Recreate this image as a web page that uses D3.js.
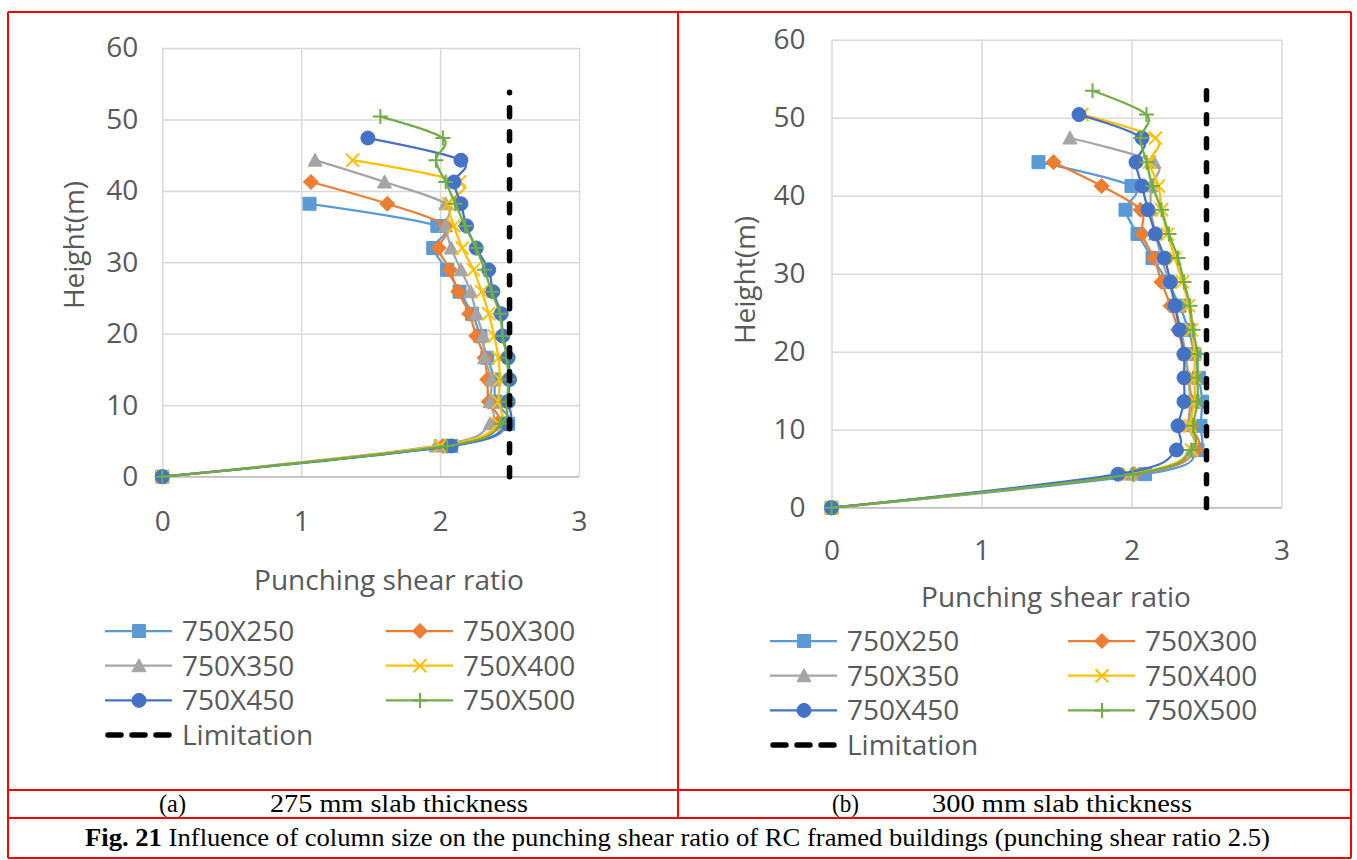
<!DOCTYPE html>
<html><head><meta charset="utf-8">
<script src="https://cdn.jsdelivr.net/npm/d3@7"></script>
<style>body{margin:0;background:#fff;} svg{display:block;}</style>
</head><body>
<svg id="c" width="1357" height="860"></svg>
<script>
// ---------- data ----------
const heights = [0, 4.3, 7.4, 10.5, 13.6, 16.65, 19.7, 22.8, 25.9, 28.95, 32.0, 35.1, 38.2, 41.25, 44.3, 47.4, 50.4, 53.45];
const seriesNames = ["750X250", "750X300", "750X350", "750X400", "750X450", "750X500"];
const seriesColors = ["#5B9BD5", "#ED7D31", "#A5A5A5", "#FFC000", "#4472C4", "#70AD47"];
const markerShapes = ["square", "diamond", "triangle", "x", "circle", "plus"];
const xTicks = [0, 1, 2, 3];
const yTicks = [0, 10, 20, 30, 40, 50, 60];
const limitRatio = [2.5, 2.5];
const limitHeight = [0, 53.8];
const limitName = "Limitation";

// (a) 275 mm slab thickness
const a750x250 = [0, 2.08, 2.49, 2.40, 2.39, 2.34, 2.29, 2.23, 2.14, 2.05, 1.95, 1.98, 1.06];
const a750x300 = [0, 2.02, 2.41, 2.35, 2.34, 2.32, 2.26, 2.21, 2.13, 2.07, 1.99, 2.04, 1.62, 1.07];
const a750x350 = [0, 1.97, 2.36, 2.36, 2.37, 2.32, 2.31, 2.26, 2.22, 2.15, 2.08, 2.04, 2.04, 1.60, 1.10];
const a750x400 = [0, 2.00, 2.42, 2.42, 2.43, 2.42, 2.39, 2.35, 2.30, 2.24, 2.16, 2.10, 2.06, 2.14, 1.37];
const a750x450 = [0, 2.08, 2.48, 2.49, 2.50, 2.49, 2.45, 2.44, 2.38, 2.35, 2.26, 2.19, 2.15, 2.10, 2.15, 1.48];
const a750x500 = [0, 2.05, 2.44, 2.48, 2.49, 2.48, 2.45, 2.43, 2.37, 2.32, 2.26, 2.18, 2.11, 2.04, 1.97, 2.02, 1.57];

// (b) 300 mm slab thickness
const b750x250 = [0, 2.09, 2.44, 2.46, 2.47, 2.45, 2.42, 2.38, 2.32, 2.24, 2.14, 2.04, 1.96, 2.00, 1.38];
const b750x300 = [0, 2.02, 2.43, 2.40, 2.40, 2.38, 2.35, 2.31, 2.26, 2.20, 2.15, 2.07, 2.06, 1.80, 1.48];
const b750x350 = [0, 2.00, 2.40, 2.38, 2.39, 2.38, 2.36, 2.33, 2.29, 2.25, 2.20, 2.16, 2.13, 2.13, 2.15, 1.59];
const b750x400 = [0, 1.98, 2.40, 2.39, 2.42, 2.42, 2.42, 2.40, 2.38, 2.34, 2.29, 2.24, 2.20, 2.18, 2.12, 2.16, 1.67];
const b750x450 = [0, 1.91, 2.30, 2.31, 2.35, 2.35, 2.35, 2.32, 2.29, 2.26, 2.22, 2.16, 2.11, 2.07, 2.03, 2.07, 1.65];
const b750x500 = [0, 2.01, 2.40, 2.41, 2.44, 2.44, 2.44, 2.41, 2.39, 2.35, 2.31, 2.25, 2.20, 2.14, 2.10, 2.06, 2.10, 1.74];

const xTitle = "Punching shear ratio";
const yTitle = "Height(m)";
const subCaptionA = ["(a)", "275 mm  slab  thickness"];
const subCaptionB = ["(b)", "300 mm  slab  thickness"];
const figLabel = "Fig. 21";
const figText = " Influence of column size on the punching shear ratio of RC framed buildings (punching shear ratio 2.5)";

// ---------- drawing ----------
const svg = d3.select("#c");
const TEXT = "#595959";
const FONT = "'Open Sans', sans-serif";
const FS = 28;

function markerPath(shape) {
  switch (shape) {
    case "square": return "M-6.5,-6.5H6.5V6.5H-6.5Z";
    case "diamond": return "M0,-7.5L7.5,0L0,7.5L-7.5,0Z";
    case "triangle": return "M0,-7L7,6L-7,6Z";
    case "circle": return "M7,0A7,7 0 1,1 -7,0A7,7 0 1,1 7,0Z";
    case "x": return "M-6.5,-6.5L6.5,6.5M-6.5,6.5L6.5,-6.5";
    case "plus": return "M-7.5,0H7.5M0,-7.5V7.5";
  }
}
function drawMarker(g, shape, color, x, y) {
  const stroked = shape === "x" || shape === "plus";
  g.append("path").attr("d", markerPath(shape))
    .attr("transform", `translate(${x},${y})`)
    .attr("fill", stroked ? "none" : color)
    .attr("stroke", color)
    .attr("stroke-width", stroked ? 2 : 1);
}

function drawPanel(cfg) {
  const g = svg.append("g");
  const x = d3.scaleLinear().domain([0, 3]).range(cfg.xr);
  const y = d3.scaleLinear().domain([0, 60]).range(cfg.yr);

  const yAxis = d3.axisLeft(y).tickValues(yTicks).tickFormat(d3.format("d"))
    .tickSize(-(cfg.xr[1] - cfg.xr[0])).tickPadding(cfg.yPad).tickSizeOuter(0);
  const ya = g.append("g").attr("transform", `translate(${cfg.xr[0]},0)`).call(yAxis);
  ya.select(".domain").remove();
  ya.selectAll("line").attr("stroke", "#D9D9D9").attr("stroke-width", 1.5);
  ya.selectAll("text").attr("font-family", FONT).attr("font-size", FS).attr("fill", TEXT);

  const xAxis = d3.axisBottom(x).tickValues(xTicks).tickFormat(d3.format("d"))
    .tickSize(-(cfg.yr[0] - cfg.yr[1])).tickPadding(cfg.xPad).tickSizeOuter(0);
  const xa = g.append("g").attr("transform", `translate(0,${cfg.yr[0]})`).call(xAxis);
  xa.select(".domain").remove();
  xa.selectAll("line").attr("stroke", "#D9D9D9").attr("stroke-width", 1.5);
  xa.selectAll("text").attr("font-family", FONT).attr("font-size", FS).attr("fill", TEXT);

  g.append("line").attr("x1", x(0)).attr("x2", x(3)).attr("y1", y(0)).attr("y2", y(0))
    .attr("stroke", "#BFBFBF").attr("stroke-width", 1.5);

  const line = d3.line().x(d => x(d[0])).y(d => y(d[1])).curve(d3.curveCardinal.tension(0));
  cfg.series.forEach((vals, i) => {
    const pts = vals.map((v, k) => [v, heights[k]]);
    g.append("path").attr("d", line(pts)).attr("fill", "none")
      .attr("stroke", seriesColors[i]).attr("stroke-width", 2.25);
    pts.forEach(p => drawMarker(g, markerShapes[i], seriesColors[i], x(p[0]), y(p[1])));
  });

  const lim = limitRatio.map((v, k) => [v, limitHeight[k]]);
  g.append("path").attr("d", d3.line().x(d => x(d[0])).y(d => y(d[1]))(lim))
    .attr("fill", "none").attr("stroke", "#000").attr("stroke-width", 5.5)
    .attr("stroke-linecap", "round").attr("stroke-dasharray", "9,15");

  g.append("text").attr("x", cfg.xTitle[0]).attr("y", cfg.xTitle[1])
    .attr("text-anchor", "middle").attr("font-family", FONT).attr("font-size", FS).attr("fill", TEXT).text(xTitle);
  g.append("text").attr("transform", `translate(${cfg.yTitle[0]},${cfg.yTitle[1]}) rotate(-90)`)
    .attr("text-anchor", "middle").attr("font-family", FONT).attr("font-size", FS).attr("fill", TEXT).text(yTitle);

  seriesNames.forEach((n, i) => {
    const col = i % 2, row = Math.floor(i / 2);
    const lx = cfg.legX[col], ly = cfg.legY + row * cfg.legDy;
    g.append("line").attr("x1", lx).attr("x2", lx + 67).attr("y1", ly).attr("y2", ly)
      .attr("stroke", seriesColors[i]).attr("stroke-width", 2.25);
    drawMarker(g, markerShapes[i], seriesColors[i], lx + 34, ly);
    g.append("text").attr("x", lx + 77).attr("y", ly).attr("dy", "0.36em")
      .attr("font-family", FONT).attr("font-size", FS).attr("fill", TEXT).text(n);
  });
  const ly = cfg.legY + 3 * cfg.legDy, lx = cfg.legX[0];
  g.append("line").attr("x1", lx + 3).attr("x2", lx + 64).attr("y1", ly).attr("y2", ly)
    .attr("stroke", "#000").attr("stroke-width", 5.5).attr("stroke-linecap", "round").attr("stroke-dasharray", "13,11");
  g.append("text").attr("x", lx + 77).attr("y", ly).attr("dy", "0.36em")
    .attr("font-family", FONT).attr("font-size", FS).attr("fill", TEXT).text(limitName);
}

drawPanel({
  xr: [162.3, 579], yr: [476.7, 48], yPad: 24, xPad: 34,
  xTitle: [389, 590], yTitle: [84, 245],
  series: [a750x250, a750x300, a750x350, a750x400, a750x450, a750x500],
  legX: [105, 386], legY: 631, legDy: 34.7
});
drawPanel({
  xr: [831.5, 1281.5], yr: [507.7, 39.7], yPad: 26, xPad: 32,
  xTitle: [1056, 607], yTitle: [755, 280],
  series: [b750x250, b750x300, b750x350, b750x400, b750x450, b750x500],
  legX: [770, 1068], legY: 641, legDy: 34.7
});

// ---------- frame & captions ----------
const red = "#FF0000";
const frame = svg.append("g").attr("stroke", red).attr("stroke-width", 2);
[[8, 12, 1351, 12], [8, 790, 1351, 790], [8, 818, 1351, 818], [8, 858, 1351, 858],
 [8, 12, 8, 858], [1351, 12, 1351, 858], [678, 12, 678, 818]].forEach(l =>
  frame.append("line").attr("x1", l[0]).attr("y1", l[1]).attr("x2", l[2]).attr("y2", l[3]));

const SERIF = "'Liberation Serif', 'Times New Roman', serif";
function cap(t, x, len, yy) {
  svg.append("text").attr("x", x).attr("y", yy).attr("font-family", SERIF).attr("font-size", 25)
    .attr("textLength", len).attr("lengthAdjust", "spacingAndGlyphs").text(t);
}
cap(subCaptionA[0], 159, 27, 812);
cap(subCaptionA[1], 270, 258, 812);
cap(subCaptionB[0], 832, 27, 812);
cap(subCaptionB[1], 932, 260, 812);
const ft = svg.append("text").attr("x", 85).attr("y", 846).attr("font-family", SERIF).attr("font-size", 25)
  .attr("textLength", 1185).attr("lengthAdjust", "spacingAndGlyphs");
ft.append("tspan").attr("font-weight", "bold").text(figLabel);
ft.append("tspan").text(figText);
</script>
</body></html>
